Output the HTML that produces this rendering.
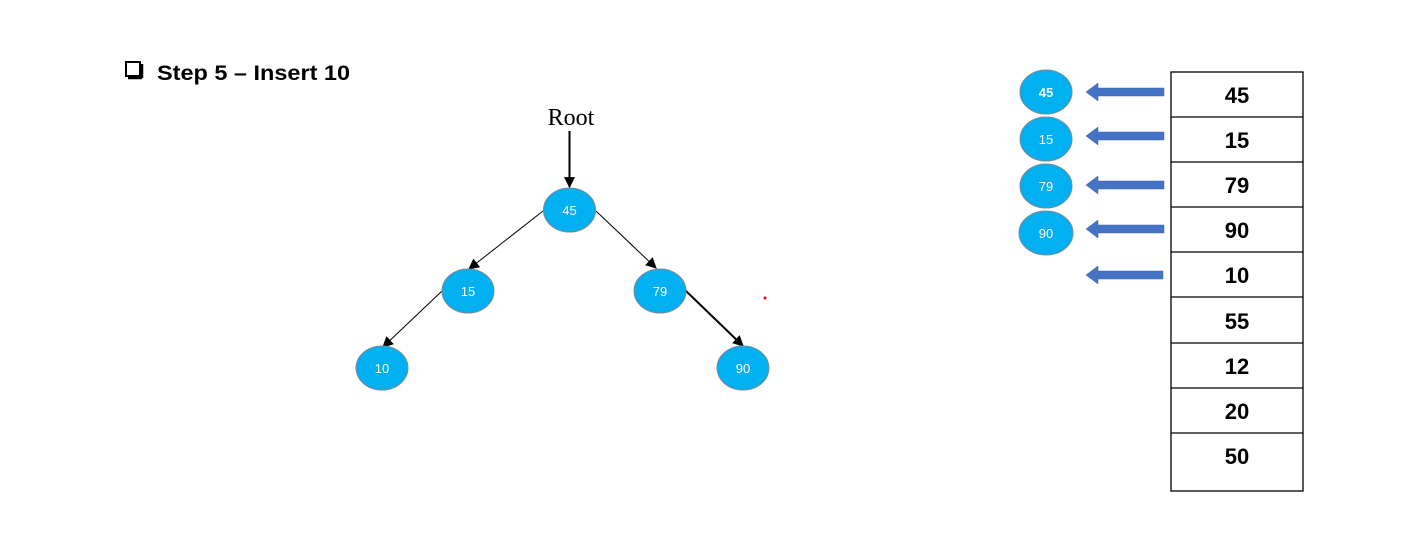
<!DOCTYPE html>
<html><head><meta charset="utf-8"><style>
body{margin:0;background:#fff;}
svg{display:block;}
</style></head><body>
<svg width="1405" height="549" viewBox="0 0 1405 549" xmlns="http://www.w3.org/2000/svg">
<defs>
<marker id="ah2" viewBox="0 0 10 10" refX="9" refY="5" markerWidth="11" markerHeight="11" markerUnits="userSpaceOnUse" orient="auto"><path d="M0,0L10,5L0,10z" fill="#000"/></marker>
</defs>
<rect x="126" y="62" width="14" height="14" fill="none" stroke="#000" stroke-width="2"/>
<line x1="128" y1="78" x2="142" y2="78" stroke="#000" stroke-width="2.5"/>
<line x1="142" y1="64" x2="142" y2="78" stroke="#000" stroke-width="2.5"/>
<text x="157" y="80" font-family="Liberation Sans, sans-serif" font-weight="bold" font-size="21" textLength="193" lengthAdjust="spacingAndGlyphs">Step 5 – Insert 10</text>
<text x="571" y="125" text-anchor="middle" font-family="Liberation Serif, serif" font-size="24">Root</text>
<line x1="569.5" y1="131" x2="569.5" y2="187" stroke="#000" stroke-width="2" marker-end="url(#ah2)"/>
<g stroke="#000" stroke-width="1">
<line x1="543" y1="211" x2="469" y2="269" marker-end="url(#ah2)"/>
<line x1="596" y1="211" x2="656" y2="268" marker-end="url(#ah2)"/>
<line x1="442" y1="291" x2="383" y2="347" marker-end="url(#ah2)"/>
<line x1="686" y1="291" x2="743" y2="346" stroke-width="2" marker-end="url(#ah2)"/>
</g>
<circle cx="765" cy="298" r="1.5" fill="#e00"/>
<g fill="#00b0f0" stroke="#7a8a99" stroke-width="1">
<ellipse cx="569.5" cy="210" rx="26" ry="22"/>
<ellipse cx="468" cy="291" rx="26" ry="22"/>
<ellipse cx="660" cy="291" rx="26" ry="22"/>
<ellipse cx="382" cy="368" rx="26" ry="22"/>
<ellipse cx="743" cy="368" rx="26" ry="22"/>
<ellipse cx="1046" cy="92" rx="26" ry="22"/>
<ellipse cx="1046" cy="139" rx="26" ry="22"/>
<ellipse cx="1046" cy="186" rx="26" ry="22"/>
<ellipse cx="1046" cy="233" rx="27" ry="22"/>
</g>
<g fill="#fff" font-family="Liberation Sans, sans-serif" font-size="13" text-anchor="middle">
<text x="569.5" y="215">45</text>
<text x="468" y="296">15</text>
<text x="660" y="296">79</text>
<text x="382" y="373">10</text>
<text x="743" y="373">90</text>
<text x="1046" y="97" font-weight="bold">45</text>
<text x="1046" y="144">15</text>
<text x="1046" y="191">79</text>
<text x="1046" y="238">90</text>
</g>
<g fill="#4472c4" stroke="#3a62a8" stroke-width="0.5">
<path d="M1164,88 L1098,88 L1098,83 L1086,92 L1098,101 L1098,96 L1164,96z"/>
<path d="M1164,132 L1098,132 L1098,127 L1086,136 L1098,145 L1098,140 L1164,140z"/>
<path d="M1164,181 L1098,181 L1098,176 L1086,185 L1098,194 L1098,189 L1164,189z"/>
<path d="M1164,225 L1098,225 L1098,220 L1086,229 L1098,238 L1098,233 L1164,233z"/>
<path d="M1163,271 L1098,271 L1098,266 L1086,275 L1098,284 L1098,279 L1163,279z"/>
</g>
<g fill="none" stroke="#000" stroke-width="1.3">
<rect x="1171" y="72" width="132" height="419"/>
<line x1="1171" y1="117" x2="1303" y2="117"/>
<line x1="1171" y1="162" x2="1303" y2="162"/>
<line x1="1171" y1="207" x2="1303" y2="207"/>
<line x1="1171" y1="252" x2="1303" y2="252"/>
<line x1="1171" y1="297" x2="1303" y2="297"/>
<line x1="1171" y1="343" x2="1303" y2="343"/>
<line x1="1171" y1="388" x2="1303" y2="388"/>
<line x1="1171" y1="433" x2="1303" y2="433"/>
</g>
<g font-family="Liberation Sans, sans-serif" font-weight="bold" font-size="22" text-anchor="middle">
<text x="1237" y="103">45</text>
<text x="1237" y="148">15</text>
<text x="1237" y="193">79</text>
<text x="1237" y="238">90</text>
<text x="1237" y="283">10</text>
<text x="1237" y="329">55</text>
<text x="1237" y="374">12</text>
<text x="1237" y="419">20</text>
<text x="1237" y="464">50</text>
</g>
</svg>
</body></html>
